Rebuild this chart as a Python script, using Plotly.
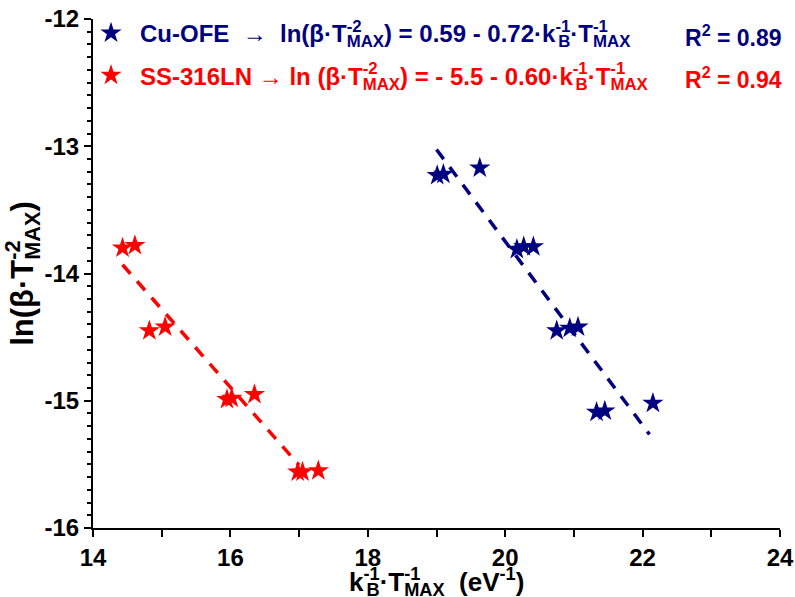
import numpy as np
import plotly.graph_objects as go

# Cu-OFE measurements
cu_x = [19.01, 19.10, 19.63, 20.17, 20.27, 20.41, 20.75, 20.94, 21.06, 21.33, 21.45, 22.15]
cu_y = [-13.23, -13.22, -13.17, -13.81, -13.79, -13.79, -14.45, -14.43, -14.42, -15.09, -15.08, -15.02]

# SS-316LN measurements
ss_x = [14.43, 14.61, 14.82, 15.05, 15.95, 16.02, 16.35, 16.98, 17.05, 17.28]
ss_y = [-13.80, -13.78, -14.45, -14.42, -14.99, -14.98, -14.95, -15.56, -15.56, -15.55]

# x-span over which each linear fit is drawn
cu_fit_span = [19.0, 22.1]
ss_fit_span = [14.43, 17.0]

x_ticks = [14, 16, 18, 20, 22, 24]
x_ticktext = ["14", "16", "18", "20", "22", "24"]
y_ticks = [-12, -13, -14, -15, -16]
y_ticktext = ["-12", "-13", "-14", "-15", "-16"]

NAVY = "#000080"
RED = "#ff0000"
FONT = "Liberation Sans, Arial, sans-serif"

# rough advance widths (em) of bold sans glyphs, used to stack sup/sub scripts
_EM = {"-": 0.333, "B": 0.722, "M": 0.833, "A": 0.722, "X": 0.667}


def _w(s, size):
    return sum(_EM.get(c, 0.556) for c in s) * size * 0.7


def stack(sup, sub, size):
    """Superscript placed above the subscript instead of before it."""
    back = min(_w(sup, size), _w(sub, size))
    return (f"<sup>{sup[:-1]}<span style='letter-spacing:-{back:.1f}px'>{sup[-1]}</span></sup>"
            f"<sub>{sub}</sub>")


def fit_line(xs, ys, span):
    k, b = np.polyfit(xs, ys, 1)
    fx = np.array(span)
    return fx, k * fx + b


LEG = 24
cu_name = (f"<span style='color:{NAVY}'>Cu-OFE  \u2192  ln(\u03b2\u00b7T{stack('-2', 'MAX', LEG)})"
           f" = 0.59 - 0.72\u00b7k{stack('-1', 'B', LEG)}\u00b7T{stack('-1', 'MAX', LEG)}</span>")
ss_name = (f"<span style='color:{RED}'>SS-316LN \u2192 ln (\u03b2\u00b7T{stack('-2', 'MAX', LEG)})"
           f" = - 5.5 - 0.60\u00b7k{stack('-1', 'B', LEG)}\u00b7T{stack('-1', 'MAX', LEG)}</span>")

fig = go.Figure()
for xs, ys, span, col, name, grp in [
    (cu_x, cu_y, cu_fit_span, NAVY, cu_name, "cu"),
    (ss_x, ss_y, ss_fit_span, RED, ss_name, "ss"),
]:
    fx, fy = fit_line(xs, ys, span)
    fig.add_trace(go.Scatter(
        x=fx, y=fy, mode="lines", showlegend=False,
        line=dict(color=col, width=3.5, dash="12px,10px"),
    ))
    fig.add_trace(go.Scatter(
        x=xs, y=ys, mode="markers", name=name, legendgroup=grp,
        marker=dict(symbol="star", size=16, color=col, line=dict(width=0)),
    ))

for txt, col, yp in [("R<sup>2</sup> = 0.89", NAVY, 0.967), ("R<sup>2</sup> = 0.94", RED, 0.884)]:
    fig.add_annotation(xref="paper", yref="paper", x=1.0, y=yp, xanchor="right", yanchor="middle",
                       xshift=4, text=txt, showarrow=False,
                       font=dict(family=FONT, size=23, color=col, weight="bold"))

# x-axis title, placed just under the tick labels
TT = 26
fig.add_annotation(xref="paper", yref="paper", x=0.5, y=0, yshift=-54, xanchor="center", yanchor="middle",
                   text=f"k{stack('-1', 'B', TT)}\u00b7T{stack('-1', 'MAX', TT)}  (eV<sup>-1</sup>)",
                   showarrow=False, font=dict(family=FONT, size=TT, color="black", weight="bold"))

axis_common = dict(
    showline=True, linecolor="black", linewidth=2,
    ticks="outside", ticklen=7, tickwidth=2, tickcolor="black",
    showgrid=False, zeroline=False, mirror=False, automargin=False,
    tickfont=dict(family=FONT, size=24, color="black", weight="bold"),
)

fig.update_layout(
    width=795, height=597,
    margin=dict(l=93, r=15, t=18, b=69),
    plot_bgcolor="white", paper_bgcolor="white",
    showlegend=True,
    legend=dict(x=-0.016, y=1.014, xanchor="left", yanchor="top", itemwidth=48,
                bgcolor="rgba(0,0,0,0)", traceorder="grouped", tracegroupgap=8,
                font=dict(family=FONT, size=LEG, weight="bold")),
    xaxis=dict(range=[14, 24], tickvals=x_ticks, ticktext=x_ticktext,
               minor=dict(dtick=1, ticks="outside", ticklen=7, tickwidth=2, tickcolor="black"),
               **axis_common),
    yaxis=dict(range=[-16, -12], tickvals=y_ticks, ticktext=y_ticktext,
               minor=dict(dtick=0.1, ticks="outside", ticklen=4, tickwidth=1.5, tickcolor="black"),
               title=dict(text=f"ln(\u03b2\u00b7T{stack('-2', 'MAX', 31)})\u00a0\u00a0",
                          font=dict(family=FONT, size=31, color="black", weight="bold"), standoff=0),
               **axis_common),
)

fig.write_html("out.html")
